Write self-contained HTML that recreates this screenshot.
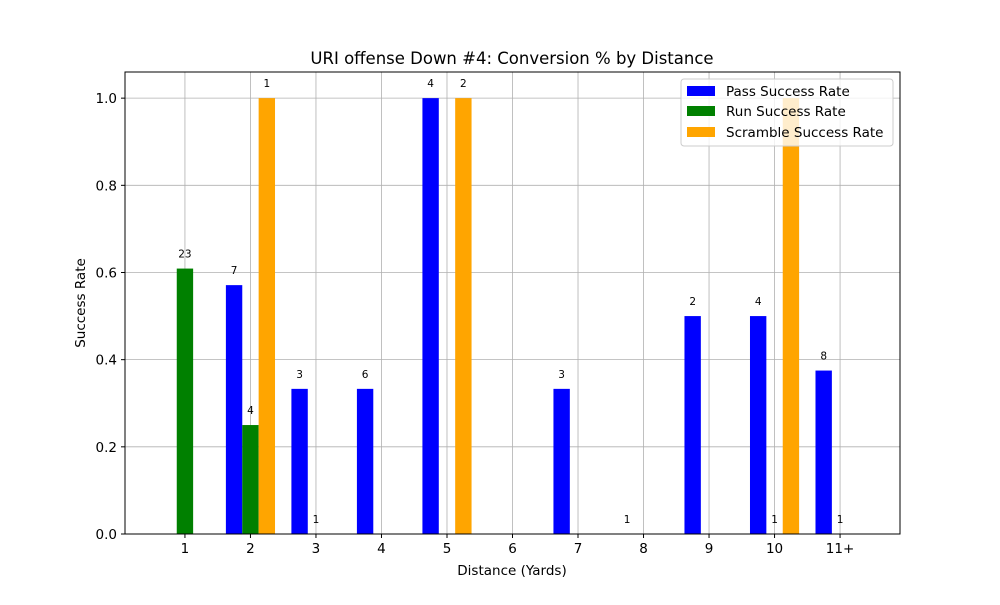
<!DOCTYPE html>
<html><head><meta charset="utf-8"><style>
body{margin:0;background:#fff;}
svg text{font-family:"DejaVu Sans","Liberation Sans",sans-serif;}
</style></head><body>
<svg id="chart" width="1000" height="600" xmlns="http://www.w3.org/2000/svg">
<rect width="1000" height="600" fill="#fff"/>
<g id="grid"></g>
<g id="bars"></g>
<g id="labels"></g>
<rect x="125" y="72" width="775" height="462" fill="none" stroke="#000" stroke-width="1"/>
<g id="axes"></g>
<text x="512" y="64" font-size="16.5" text-anchor="middle">URI offense Down #4: Conversion % by Distance</text>
<text x="512" y="575" font-size="13.5" text-anchor="middle">Distance (Yards)</text>
<text transform="translate(85,303) rotate(-90)" font-size="13.5" text-anchor="middle">Success Rate</text>
<g>
<rect x="681" y="79" width="212" height="67" fill="#fff" fill-opacity="0.8" stroke="#ccc" rx="3"/>
<rect x="687" y="86" width="28" height="10" fill="blue"/>
<text x="726" y="96" font-size="13.5">Pass Success Rate</text>
<rect x="687" y="106" width="28" height="10" fill="green"/>
<text x="726" y="116" font-size="13.5">Run Success Rate</text>
<rect x="687" y="127" width="28" height="10" fill="orange"/>
<text x="726" y="137" font-size="13.5">Scramble Success Rate</text>
</g>
</svg>
<script>
const categories=["1","2","3","4","5","6","7","8","9","10","11+"];
const passRate=[null,0.571,0.333,0.333,1.0,null,0.333,0,0.5,0.5,0.375];
const passCount=[null,7,3,6,4,null,3,1,2,4,8];
const runRate=[0.609,0.25,0,null,null,null,null,null,null,0,0];
const runCount=[23,4,1,null,null,null,null,null,null,1,1];
const scrambleRate=[null,1.0,null,null,1.0,null,null,null,null,1.0,null];
const scrambleCount=[null,1,null,null,2,null,null,null,null,null,null];
const yTicks=[0,0.2,0.4,0.6,0.8,1.0];
const NS="http://www.w3.org/2000/svg";
const L=125,R=900,T=72,B=534,x0=-0.915,x1=10.915,yMax=1.06;
function xs(v){return L+(v-x0)/(x1-x0)*(R-L);}
function ys(v){return B-v/yMax*(B-T);}
function mk(tag,attrs,parent,txt){const e=document.createElementNS(NS,tag);for(const k in attrs)e.setAttribute(k,attrs[k]);if(txt!==undefined)e.textContent=txt;document.getElementById(parent).appendChild(e);return e;}
const w=0.25;
categories.forEach((c,i)=>{
  const g=mk('line',{x1:xs(i),x2:xs(i),y1:T,y2:B,stroke:'#b0b0b0','stroke-width':0.8},'grid');
  
  
  const tk=mk('line',{x1:xs(i),x2:xs(i),y1:B,y2:B+4,stroke:'#000'},'axes');
  
  
  const t=mk('text',{x:xs(i),y:B+19,'font-size':13.5,'text-anchor':'middle'},'axes',c);
  
  
});
yTicks.forEach(v=>{
  const g=mk('line',{x1:L,x2:R,y1:ys(v),y2:ys(v),stroke:'#b0b0b0','stroke-width':0.8},'grid');
  
  
  const tk=mk('line',{x1:L-4,x2:L,y1:ys(v),y2:ys(v),stroke:'#000'},'axes');
  
  
  const t=mk('text',{x:L-8,y:ys(v)+5,'font-size':13.5,'text-anchor':'end'},'axes',v.toFixed(1));
  
  
});
const series=[[passRate,passCount,-w,'blue','pass'],[runRate,runCount,0,'green','run'],[scrambleRate,scrambleCount,w,'orange','scramble']];
series.forEach(([rates,counts,off,col,nm])=>{
  rates.forEach((v,i)=>{
    if(v===null)return;
    const xl=xs(i+off-w/2),xr=xs(i+off+w/2);
    const b=mk('rect',{x:xl,y:ys(v),width:xr-xl,height:ys(0)-ys(v),fill:col},'bars');
    
    
    if(counts[i]!==null){
      const t=mk('text',{x:xs(i+off),y:ys(v)-11,'font-size':10.5,'text-anchor':'middle'},'labels',String(counts[i]));
      
      
    }
  });
});
</script>
</body></html>
